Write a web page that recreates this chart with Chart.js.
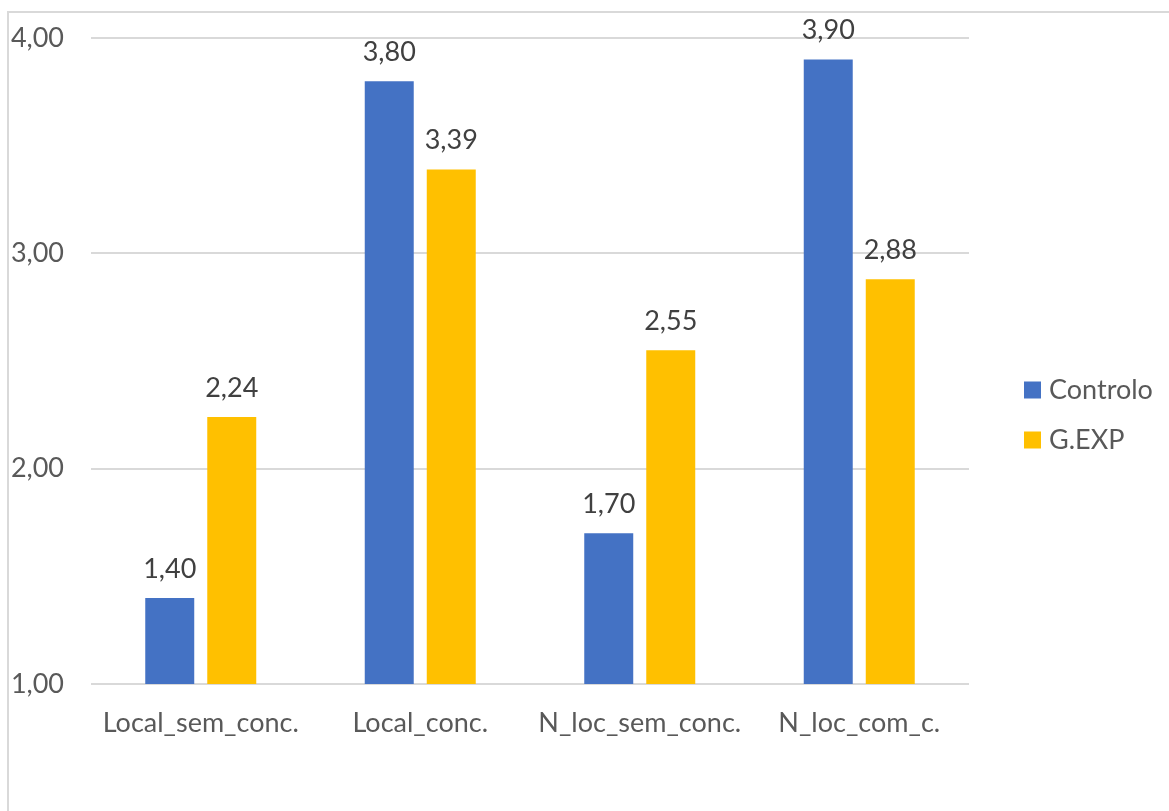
<!DOCTYPE html>
<html>
<head>
<meta charset="utf-8">
<script src="https://cdn.jsdelivr.net/npm/chart.js@4/dist/chart.umd.min.js"></script>
<style>
  html, body { margin: 0; padding: 0; background: #ffffff; }
  canvas { display: block; }
</style>
</head>
<body>
<canvas id="c" width="1169" height="811"></canvas>
<script>
// Categories and series
const categories = ['Local_sem_conc.', 'Local_conc.', 'N_loc_sem_conc.', 'N_loc_com_c.'];
const controlo = [1.40, 3.80, 1.70, 3.90];
const gexp = [2.24, 3.39, 2.55, 2.88];
const seriesNames = ['Controlo', 'G.EXP'];
const yTicks = [1, 2, 3, 4];

const FONT = 'Lato, "Open Sans", sans-serif';
const FONT_SIZE = 27;
const fmt = v => v.toFixed(2).replace('.', ',');

// Outer frame of the chart object
const framePlugin = {
  id: 'frame',
  beforeDraw(chart) {
    const ctx = chart.ctx;
    ctx.save();
    ctx.fillStyle = '#ffffff';
    ctx.fillRect(0, 0, chart.width, chart.height);
    ctx.strokeStyle = '#d9d9d9';
    ctx.lineWidth = 2;
    ctx.strokeRect(8, 12, chart.width + 20, chart.height + 20);
    ctx.restore();
  }
};

// Value labels above each bar
const valueLabels = {
  id: 'valueLabels',
  afterDatasetsDraw(chart) {
    const ctx = chart.ctx;
    ctx.save();
    ctx.font = FONT_SIZE + 'px ' + FONT;
    ctx.fillStyle = '#404040';
    ctx.textAlign = 'center';
    ctx.textBaseline = 'middle';
    chart.data.datasets.forEach((ds, di) => {
      chart.getDatasetMeta(di).data.forEach((bar, i) => {
        ctx.fillText(fmt(ds.data[i]), bar.x, bar.y - 29);
      });
    });
    ctx.restore();
  }
};

// Legend on the right side
const sideLegend = {
  id: 'sideLegend',
  afterDraw(chart) {
    const ctx = chart.ctx;
    ctx.save();
    ctx.font = FONT_SIZE + 'px ' + FONT;
    ctx.textBaseline = 'middle';
    ctx.textAlign = 'left';
    const x = 1024, y0 = 390, step = 50, box = 17;
    chart.data.datasets.forEach((ds, i) => {
      const y = y0 + i * step;
      ctx.fillStyle = ds.backgroundColor;
      ctx.fillRect(x, y - box / 2, box, box);
      ctx.fillStyle = '#595959';
      ctx.fillText(ds.label, x + 25, y);
    });
    ctx.restore();
  }
};

new Chart(document.getElementById('c'), {
  type: 'bar',
  data: {
    labels: categories,
    datasets: [
      { label: seriesNames[0], data: controlo, backgroundColor: '#4472c4' },
      { label: seriesNames[1], data: gexp, backgroundColor: '#ffc000' }
    ]
  },
  options: {
    responsive: false,
    animation: false,
    devicePixelRatio: 1,
    categoryPercentage: 0.565,
    barPercentage: 0.79,
    layout: { padding: { top: 20, right: 200, left: 0, bottom: 0 } },
    plugins: {
      legend: { display: false },
      tooltip: { enabled: false }
    },
    scales: {
      x: {
        grid: { display: false },
        border: { display: false },
        ticks: {
          color: '#595959',
          font: { family: FONT, size: FONT_SIZE },
          padding: 15,
          maxRotation: 0,
          autoSkip: false
        },
        afterFit(scale) { scale.height = 127; }
      },
      y: {
        min: 1,
        max: 4,
        afterBuildTicks(scale) { scale.ticks = yTicks.map(v => ({ value: v })); },
        grid: { color: '#d9d9d9', lineWidth: 2, drawTicks: false },
        border: { display: false },
        ticks: {
          color: '#595959',
          font: { family: FONT, size: FONT_SIZE, lineHeight: 0.82 },
          padding: 27,
          callback: v => fmt(v)
        },
        afterFit(scale) { scale.width = 91; }
      }
    }
  },
  plugins: [framePlugin, valueLabels, sideLegend]
});
</script>
</body>
</html>
